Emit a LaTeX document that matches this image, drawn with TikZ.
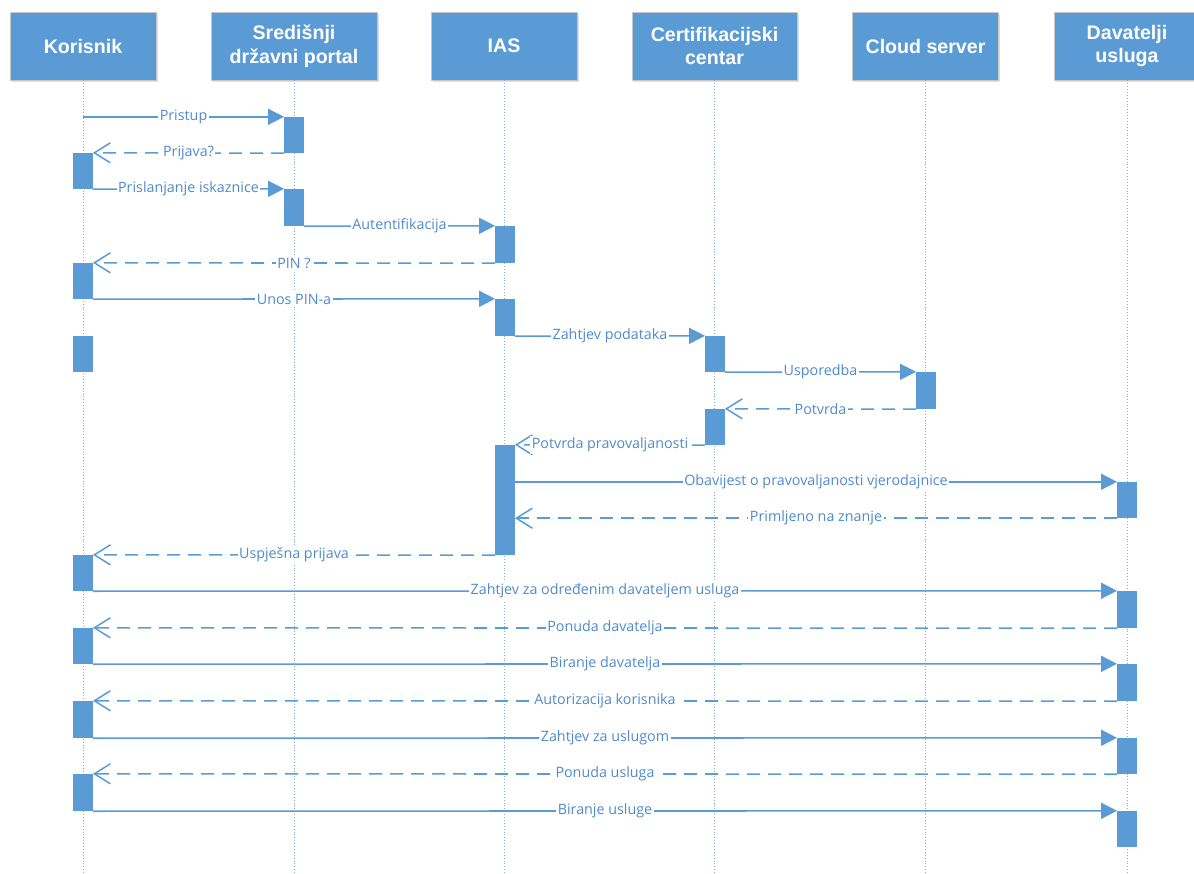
\documentclass[tikz,border=0pt]{standalone}
\usepackage{fontspec}
\setmainfont{Open Sans}
\newfontfamily\headfont{Liberation Sans}
\usetikzlibrary{arrows.meta,shadows}
\definecolor{vblue}{HTML}{5B9BD5}
\definecolor{lblue}{HTML}{4F8BCB}
\definecolor{lifeblue}{HTML}{7FAEDD}
\newcommand\actv[4]{\node[act, minimum height={(#4-#3)*1pt}] (#1) at (#2,{(#3+#4)/2}) {};}
\begin{document}
\begin{tikzpicture}[x=1pt,y=-1pt,
  head/.style={fill=vblue, draw=black!22, line width=0.8pt, minimum height=68pt, inner sep=0pt,
    text=white, align=center, font=\headfont\bfseries\fontsize{19.6}{23.5}\selectfont,
    drop shadow={shadow xshift=1.5pt, shadow yshift=-2pt, fill=black!25, opacity=0.5}},
  life/.style={draw=lifeblue, line width=0.9pt, dotted},
  act/.style={fill=vblue, draw=none, minimum width=19.5pt, inner sep=0pt},
  msg/.style={draw=vblue, line width=1.6pt, -{Triangle[length=16pt,width=16pt]}},
  ret/.style={draw=vblue, line width=1.6pt, dash pattern=on 13pt off 8pt,
    -{Straight Barb[length=16pt,width=20pt,line width=1.5pt]}},
  lab/.style={fill=white, text=lblue, inner sep=1.5pt, font=\fontsize{14.3}{17}\selectfont}
]
\useasboundingbox (0,0) rectangle (1194,874);
% headers
\node[head, minimum width=146pt] (kor) at (83,46) {Korisnik};
\node[head, minimum width=166pt] (sdp) at (294,46) {Središnji\\državni portal};
\node[head, minimum width=146pt] (ias) at (504,46) {IAS};
\node[head, minimum width=165pt] (cer) at (714.5,46) {Certifikacijski\\centar};
\node[head, minimum width=146pt] (cld) at (925.5,46) {Cloud server};
\node[head, minimum width=146pt] (dav) at (1127,46) {Davatelji\\usluga};
% lifelines
\foreach \n in {kor,sdp,ias,cer,cld,dav}
  \draw[life] (\n.south) -- (\n.south |- 0,874);
% activations
\actv{s1}{294}{117}{153}
\actv{k1}{83}{153}{189}
\actv{s2}{294}{189}{226}
\actv{i1}{505}{226}{263}
\actv{k2}{83}{263}{299}
\actv{i2}{505}{299}{336}
\actv{k3}{83}{336}{372}
\actv{c1}{715}{336}{372}
\actv{cl1}{926}{372}{409}
\actv{c2}{715}{409}{445}
\actv{i3}{505}{445}{555}
\actv{d1}{1127}{482}{518}
\actv{k4}{83}{555}{591}
\actv{d2}{1127}{591}{628}
\actv{k5}{83}{628}{664}
\actv{d3}{1127}{664}{701}
\actv{k6}{83}{701}{738}
\actv{d4}{1127}{738}{774}
\actv{k7}{83}{774}{811}
\actv{d5}{1127}{811}{847}
% messages
\draw[msg] (kor.south |- s1.north west) -- node[lab]{Pristup} (s1.north west);
\draw[ret] (s1.south west) -- node[lab]{Prijava?} (k1.north east);
\draw[msg] (k1.south east) -- node[lab]{Prislanjanje iskaznice} (s2.north west);
\draw[msg] (s2.south east) -- node[lab]{Autentifikacija} (i1.north west);
\draw[ret] (i1.south west) -- node[lab]{PIN ?} (k2.north east);
\draw[msg] (k2.south east) -- node[lab]{Unos PIN-a} (i2.north west);
\draw[msg] (i2.south east) -- node[lab]{Zahtjev podataka} (c1.north west);
\draw[msg] (c1.south east) -- node[lab]{Usporedba} (cl1.north west);
\draw[ret] (cl1.south west) -- node[lab]{Potvrda} (c2.north east);
\draw[ret] (c2.south west) -- node[lab]{Potvrda pravovaljanosti} (i3.north east);
\draw[msg] (i3.east |- d1.north west) -- node[lab]{Obavijest o pravovaljanosti vjerodajnice} (d1.north west);
\draw[ret] (d1.south west) -- node[lab]{Primljeno na znanje} (i3.east |- d1.south west);
\draw[ret] (i3.south west) -- node[lab]{Uspješna prijava} (k4.north east);
\draw[msg] (k4.south east) -- node[lab]{Zahtjev za određenim davateljem usluga} (d2.north west);
\draw[ret] (d2.south west) -- node[lab]{Ponuda davatelja} (k5.north east);
\draw[msg] (k5.south east) -- node[lab]{Biranje davatelja} (d3.north west);
\draw[ret] (d3.south west) -- node[lab]{Autorizacija korisnika} (k6.north east);
\draw[msg] (k6.south east) -- node[lab]{Zahtjev za uslugom} (d4.north west);
\draw[ret] (d4.south west) -- node[lab]{Ponuda usluga} (k7.north east);
\draw[msg] (k7.south east) -- node[lab]{Biranje usluge} (d5.north west);
\end{tikzpicture}
\end{document}
